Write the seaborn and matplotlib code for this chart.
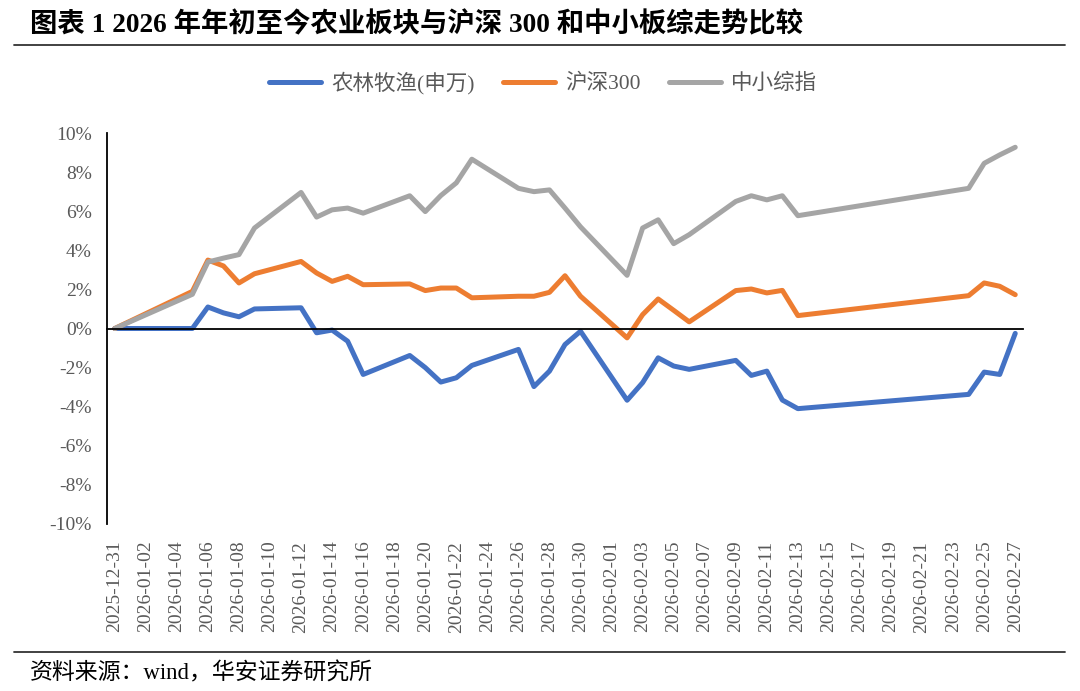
import pandas as pd
import matplotlib
matplotlib.use("Agg")
import matplotlib.pyplot as plt
import matplotlib.dates as mdates
from matplotlib.ticker import FuncFormatter, FixedLocator
from matplotlib.lines import Line2D
import seaborn as sns

# ---------------- données (en %) ----------------
dates = [
    "2025-12-31", "2026-01-05", "2026-01-06", "2026-01-07", "2026-01-08", "2026-01-09",
    "2026-01-12", "2026-01-13", "2026-01-14", "2026-01-15", "2026-01-16",
    "2026-01-19", "2026-01-20", "2026-01-21", "2026-01-22", "2026-01-23",
    "2026-01-26", "2026-01-27", "2026-01-28", "2026-01-29", "2026-01-30",
    "2026-02-02", "2026-02-03", "2026-02-04", "2026-02-05", "2026-02-06",
    "2026-02-09", "2026-02-10", "2026-02-11", "2026-02-12", "2026-02-13",
    "2026-02-24", "2026-02-25", "2026-02-26", "2026-02-27",
]
agri = [
    0.0, 0.0, 1.10, 0.80, 0.60, 1.00,
    1.06, -0.22, -0.08, -0.65, -2.35,
    -1.38, -2.00, -2.74, -2.52, -1.89,
    -1.07, -2.97, -2.18, -0.82, -0.14,
    -3.67, -2.77, -1.50, -1.92, -2.09,
    -1.63, -2.40, -2.18, -3.66, -4.10,
    -3.37, -2.23, -2.35, -0.25,
]
hs300 = [
    0.0, 1.90, 3.50, 3.20, 2.33, 2.80,
    3.43, 2.84, 2.41, 2.67, 2.24,
    2.28, 1.94, 2.07, 2.07, 1.57,
    1.65, 1.65, 1.85, 2.70, 1.65,
    -0.48, 0.71, 1.51, 0.93, 0.34,
    1.94, 2.02, 1.82, 1.95, 0.66,
    1.68, 2.33, 2.16, 1.73,
]
zxzz = [
    0.0, 1.75, 3.40, 3.60, 3.78, 5.14,
    6.96, 5.70, 6.07, 6.16, 5.90,
    6.79, 5.98, 6.80, 7.45, 8.66,
    7.17, 7.00, 7.09, 6.16, 5.20,
    2.72, 5.14, 5.56, 4.34, 4.80,
    6.50, 6.79, 6.58, 6.79, 5.77,
    7.17, 8.45, 8.88, 9.27,
]
series_names = ["农林牧渔(申万)", "沪深300", "中小综指"]
colors = ["#4472C4", "#ED7D31", "#A5A5A5"]
y_ticks = list(range(-10, 11, 2))

title = "图表 1 2026 年年初至今农业板块与沪深 300 和中小板综走势比较"
source = "资料来源：wind，华安证券研究所"

# ---------------- mise en forme ----------------
sns.set_style("white")
plt.rcParams["font.family"] = ["Liberation Serif", "Noto Sans CJK SC"]

df = pd.DataFrame({"date": pd.to_datetime(dates)})
for name, vals in zip(series_names, [agri, hs300, zxzz]):
    df[name] = vals
long_df = df.melt(id_vars="date", var_name="serie", value_name="val")

fig = plt.figure(figsize=(10.8, 6.91), dpi=100)
ax = fig.add_axes([107 / 1080, 1 - 524 / 691, 916 / 1080, 391 / 691])

sns.lineplot(data=long_df, x="date", y="val", hue="serie", hue_order=series_names,
             palette=colors, linewidth=3.6, ax=ax, legend=False)

# axe X : calendaire, un label tous les 2 jours
start = pd.Timestamp(dates[0])
end = pd.Timestamp(dates[-1])
ax.set_xlim(start - pd.Timedelta(hours=12), end + pd.Timedelta(hours=12))
ax.set_ylim(-10, 10)
label_days = pd.date_range(start, end, freq="2D")
mark_days = label_days - pd.Timedelta(hours=12)

# axe horizontal à 0 avec petites graduations
ax.spines["bottom"].set_position(("data", 0))
ax.spines["top"].set_visible(False)
ax.spines["right"].set_visible(False)
for s in ["bottom", "left"]:
    ax.spines[s].set_color("black")
    ax.spines[s].set_linewidth(1.3)
ax.xaxis.set_major_locator(FixedLocator(mdates.date2num(mark_days)))
ax.xaxis.set_major_formatter(FuncFormatter(lambda v, p: ""))
ax.tick_params(axis="x", direction="out", length=5, width=1.3, color="black")

# labels des dates en bas du graphique
sec = ax.secondary_xaxis("bottom")
sec.spines["bottom"].set_visible(False)
sec.set_xticks(mdates.date2num(label_days))
sec.set_xticklabels([d.strftime("%Y-%m-%d") for d in label_days], rotation=90,
                    fontsize=14, color="#595959")
sec.tick_params(axis="x", length=0, pad=12)

ax.set_yticks(y_ticks)
ax.yaxis.set_major_formatter(FuncFormatter(lambda v, p: f"{v:.0f}%"))
ax.tick_params(axis="y", direction="out", length=5, width=1.3, color="black",
               labelsize=14, labelcolor="#595959", pad=6)
ax.set_xlabel("")
ax.set_ylabel("")

# légende
handles = [Line2D([0], [0], color=c, lw=3.6) for c in colors]
fig.legend(handles, series_names, loc="center", bbox_to_anchor=(0.503, 1 - 83 / 691),
           ncol=3, frameon=False, fontsize=15.5, handlelength=2.4, columnspacing=1.3,
           handletextpad=0.5, labelcolor="#595959")

# titre, filets, source
fig.text(30 / 1080, 1 - 25 / 691, title, fontsize=19.7, fontweight="bold",
         va="center", ha="left", color="black")
fig.add_artist(Line2D([14 / 1080, 1065 / 1080], [1 - 45 / 691, 1 - 45 / 691],
                      color="#333333", lw=1.3))
fig.add_artist(Line2D([14 / 1080, 1065 / 1080], [1 - 652 / 691, 1 - 652 / 691],
                      color="#333333", lw=1.3))
fig.text(30 / 1080, 1 - 673 / 691, source, fontsize=16.5, va="center", ha="left",
         color="black")

fig.savefig("out.png", dpi=100)
